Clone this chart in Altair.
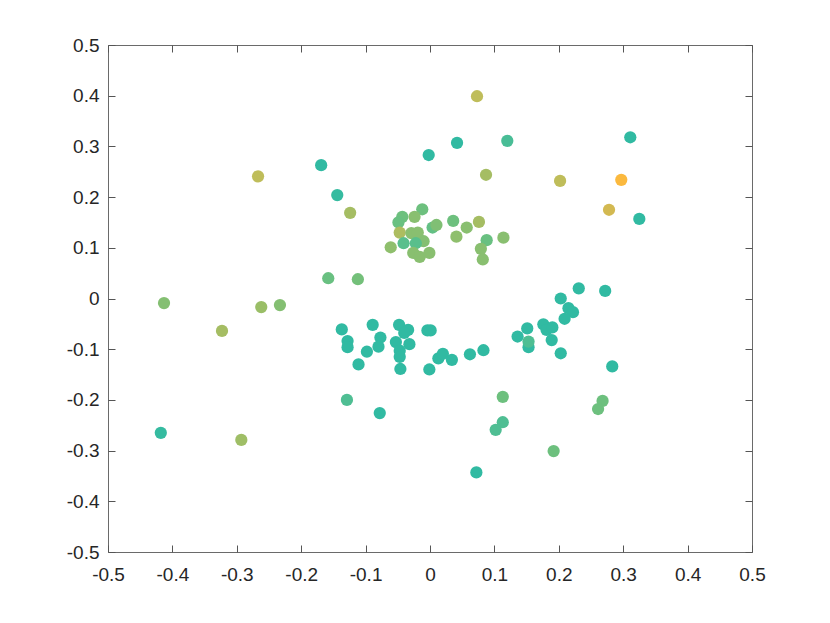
import altair as alt
import pandas as pd

x_vals = [
    0.073, -0.002, 0.042, 0.120, 0.311, -0.169, -0.144, -0.267, -0.124, 0.087, 0.202, 0.297, 0.278, 0.325,
    -0.012, -0.043, -0.049, -0.024, -0.047, -0.041, -0.061, -0.029, -0.019, -0.010, -0.022, -0.026,
    -0.016, -0.001, 0.004, 0.010, 0.036, 0.041, 0.057, 0.076, 0.088, 0.079, 0.082, 0.114,
    -0.413, -0.323, -0.262, -0.233, -0.158, -0.112, -0.418, -0.293, -0.129, -0.078,
    -0.137, -0.128, -0.128, -0.089, -0.077, -0.080, -0.098, -0.111, -0.048, -0.034, -0.053, -0.032,
    -0.047, -0.047, -0.046, -0.040, -0.004, 0.001, -0.001, 0.013, 0.020, 0.034, 0.062, 0.083,
    0.113, 0.113, 0.102, 0.072, 0.192, 0.268, 0.261, 0.283, 0.136, 0.151, 0.153, 0.153,
    0.176, 0.181, 0.190, 0.189, 0.203, 0.203, 0.215, 0.222, 0.209, 0.231, 0.272,
]
y_vals = [
    0.399, 0.283, 0.307, 0.311, 0.318, 0.263, 0.204, 0.241, 0.169, 0.244, 0.232, 0.234, 0.175, 0.157,
    0.176, 0.161, 0.150, 0.161, 0.130, 0.109, 0.101, 0.129, 0.130, 0.113, 0.109, 0.090,
    0.082, 0.090, 0.140, 0.145, 0.153, 0.122, 0.140, 0.151, 0.115, 0.098, 0.077, 0.120,
    -0.009, -0.064, -0.017, -0.013, 0.040, 0.038, -0.265, -0.279, -0.200, -0.226,
    -0.061, -0.084, -0.096, -0.052, -0.077, -0.095, -0.105, -0.130, -0.052, -0.062, -0.086, -0.090,
    -0.103, -0.115, -0.139, -0.068, -0.063, -0.063, -0.140, -0.118, -0.109, -0.121, -0.110, -0.102,
    -0.194, -0.244, -0.259, -0.343, -0.301, -0.202, -0.218, -0.134, -0.075, -0.059, -0.096, -0.085,
    -0.051, -0.062, -0.057, -0.082, -0.108, 0.000, -0.019, -0.027, -0.040, 0.020, 0.015,
]
c_vals = [
    0.70, 0.00, 0.00, 0.12, 0.00, 0.00, 0.02, 0.70, 0.55, 0.55, 0.70, 1.00, 0.82, 0.00,
    0.30, 0.30, 0.28, 0.42, 0.60, 0.20, 0.45, 0.42, 0.42, 0.40, 0.20, 0.42,
    0.42, 0.42, 0.25, 0.38, 0.30, 0.45, 0.42, 0.55, 0.28, 0.42, 0.42, 0.42,
    0.40, 0.55, 0.50, 0.40, 0.28, 0.33, 0.02, 0.52, 0.15, 0.00,
    0.00, 0.00, 0.00, 0.00, 0.00, 0.00, 0.00, 0.00, 0.00, 0.00, 0.00, 0.00,
    0.00, 0.00, 0.00, 0.00, 0.00, 0.00, 0.00, 0.00, 0.00, 0.00, 0.00, 0.00,
    0.30, 0.15, 0.15, 0.00, 0.30, 0.30, 0.30, 0.00, 0.00, 0.00, 0.00, 0.15,
    0.00, 0.00, 0.00, 0.00, 0.00, 0.00, 0.00, 0.00, 0.00, 0.00, 0.00,
]

tick_values = [-0.5, -0.4, -0.3, -0.2, -0.1, 0, 0.1, 0.2, 0.3, 0.4, 0.5]

df = pd.DataFrame({"x": x_vals, "y": y_vals, "c": c_vals, "order": list(range(len(x_vals)))})

color_scale = alt.Scale(
    domain=[0, 0.15, 0.3, 0.42, 0.55, 0.7, 0.82, 1],
    range=["#31baa2", "#4fbe93", "#6dc07e", "#89bf70", "#a5bd63", "#bfbd5a", "#d3b951", "#fbb93e"],
)
xs = alt.Scale(domain=[-0.5, 0.5], nice=False, zero=False)
ys = alt.Scale(domain=[-0.5, 0.5], nice=False, zero=False)

font = "Liberation Sans"
label_expr = "datum.value < 0 ? '-' + format(-datum.value, '~g') : format(datum.value, '~g')"
common = dict(
    values=tick_values, tickSize=7, offset=-7, domain=False, grid=False,
    tickColor="#555555", tickWidth=1, labelColor="#262626", labelFont=font,
    labelFontSize=19, title=None, labelFlush=False, labelOverlap=False,
)

base = alt.Chart(df)
points = base.mark_circle(size=150, opacity=1).encode(
    x=alt.X("x:Q", scale=xs, axis=alt.Axis(orient="bottom", labelPadding=13, labelExpr=label_expr, **common)),
    y=alt.Y("y:Q", scale=ys, axis=alt.Axis(orient="left", labelPadding=9, labelExpr=label_expr, **common)),
    color=alt.Color("c:Q", scale=color_scale, legend=None),
    order=alt.Order("order:Q"),
)
frame = base.mark_circle(opacity=0).encode(
    x=alt.X("x:Q", scale=xs, axis=alt.Axis(orient="top", labels=False, **common)),
    y=alt.Y("y:Q", scale=ys, axis=alt.Axis(orient="right", labels=False, **common)),
)

chart = alt.layer(frame, points).resolve_axis(x="independent", y="independent").properties(
    width=644, height=507,
    autosize=alt.AutoSizeParams(type="none"),
    padding={"left": 100, "top": 37, "right": 70, "bottom": 62},
).configure_view(stroke="#6a6a6a", strokeWidth=1)

chart.save("out.html", embed_options={"renderer": "svg", "actions": False})
